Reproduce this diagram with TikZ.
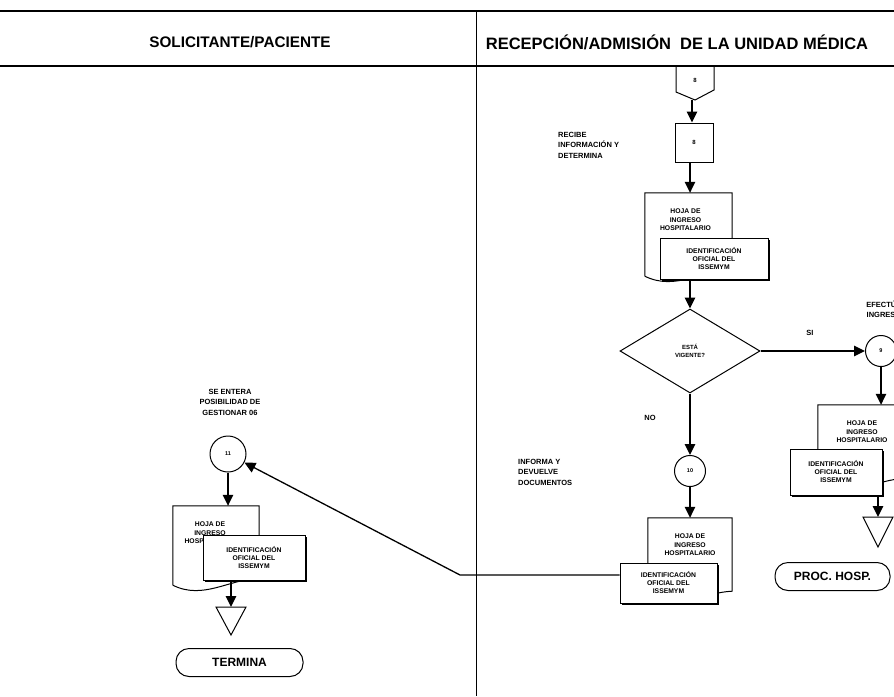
\documentclass[tikz,border=0pt]{standalone}
\usepackage{fontspec}
\setmainfont{Liberation Sans}
\usetikzlibrary{arrows.meta,shapes.geometric,calc,shadows}

\tikzset{
  hdr/.style={font=\bfseries\fontsize{15.3}{17}\selectfont, inner sep=0},
  note/.style={font=\bfseries\fontsize{7.5}{10.5}\selectfont, align=left, inner sep=0},
  lbl/.style={font=\bfseries\fontsize{7.5}{9}\selectfont, inner sep=0},
  shapeline/.style={line width=1pt},
  conn/.style={line width=1.3pt, -{Triangle[length=11pt,width=10.5pt]}},
  stepbox/.style={draw, shapeline, minimum width=38pt, minimum height=39pt,
    inner sep=0, font=\bfseries\fontsize{6}{7}\selectfont},
  numtext/.style={inner sep=0, font=\bfseries\fontsize{6}{7}\selectfont},
  circ/.style={draw, circle, shapeline, minimum size=31pt, inner sep=0,
    font=\bfseries\fontsize{5.5}{6.5}\selectfont},
  decision/.style={draw, diamond, shapeline, minimum width=140pt, minimum height=84pt,
    inner sep=0, align=center, font=\bfseries\fontsize{6}{7.5}\selectfont},
  docback/.style={inner sep=0, draw=none},
  doctext/.style={inner sep=0, align=center, font=\bfseries\fontsize{6.8}{8.5}\selectfont},
  docfront/.style={draw, shapeline, fill=white, inner sep=0, align=center,
    font=\bfseries\fontsize{6.8}{8}\selectfont,
    drop shadow={shadow xshift=2pt, shadow yshift=-2pt, fill=black, opacity=1}},
  term/.style={draw, shapeline, rounded corners=13pt, minimum height=28pt, inner sep=0,
    font=\bfseries\fontsize{12}{14}\selectfont},
}

% outline of a document symbol with a wavy lower edge, fitted to a node
\newcommand{\drawdocument}[1]{%
  \draw[shapeline] (#1.south west) -- (#1.north west) -- (#1.north east)
    -- ([yshift=7pt]#1.south east)
    .. controls ($(#1.south east)!0.35!(#1.south west)+(0pt,6pt)$)
       and ($(#1.south west)!0.35!(#1.south east)+(0pt,-15pt)$) .. (#1.south west);}

\begin{document}
\begin{tikzpicture}[x=1pt,y=-1pt]
\useasboundingbox (0,0) rectangle (894,696);
\clip (0,0) rectangle (894,696);

% lanes
\draw[line width=1.8pt] (0,11) -- (894,11);
\draw[line width=1.2pt] (0,66) -- (894,66);
\draw[line width=1pt] (476,11) -- (476,696);
\node[hdr] (lane1) at (240,42) {SOLICITANTE/PACIENTE};
\node[hdr, font=\bfseries\fontsize{16.5}{18}\selectfont] (lane2) at (677,42) {RECEPCIÓN/ADMISIÓN\ \ DE LA UNIDAD MÉDICA};

\coordinate (col) at (690,0);

% off-page connector 8
\node[numtext] (c8) at (695,80) {8};
\draw[shapeline] (676,66) -- (676,92) -- (695,100) -- (714,90) -- (714,66);
\coordinate (c8tip) at (692,100);

% step 8
\node[stepbox] (b8) at (694,142.5) {8};
\draw[conn] (c8tip) -- (c8tip |- b8.north);
\node[note, anchor=north west] (l8) at (558,132) {RECIBE\\INFORMACIÓN Y\\DETERMINA};

% documents after step 8
\node[docback, minimum width=87pt, minimum height=83pt] (h1) at (688.5,234.5) {};
\drawdocument{h1}
\node[doctext, anchor=north] (h1t) at ([xshift=-3pt,yshift=-16pt]h1.north) {HOJA DE\\INGRESO\\HOSPITALARIO};
\node[docfront, minimum width=108pt, minimum height=41pt] (i1) at (714,258.5) {IDENTIFICACIÓN\\OFICIAL DEL\\ISSEMYM};
\draw[conn] (b8.south -| col) -- (h1.north -| col);

% decision
\node[decision] (dia) at (690,351) {ESTÁ\\VIGENTE?};
\draw[conn] (i1.south -| dia) -- (dia.north);

% yes branch
\node[circ] (c9) at (881,351) {9};
\draw[conn] (dia.east) -- (c9.west);
\node[lbl] (si) at (810,333) {SI};
\node[note, align=center] (l9) at (884,309) {EFECTÚA\\INGRESO};

\node[docback, minimum width=88pt, minimum height=80pt] (h2) at (862,445) {};
\drawdocument{h2}
\node[doctext, anchor=north] (h2t) at ([yshift=-16pt]h2.north) {HOJA DE\\INGRESO\\HOSPITALARIO};
\node[docfront, minimum width=92pt, minimum height=46pt] (i2) at (836,472) {IDENTIFICACIÓN\\OFICIAL DEL\\ISSEMYM};
\draw[conn] (c9.south) -- (c9 |- h2.north);

\coordinate (t2) at (878,517);
\draw[conn] (i2.south -| t2) -- (t2);
\draw[shapeline] ([xshift=-15pt]t2) -- ([xshift=15pt]t2) -- ([yshift=-30pt]t2) -- cycle;
\node[term, minimum width=115pt] (ph) at (832.5,576.5) {PROC. HOSP.};

% no branch
\node[lbl] (no) at (650,418) {NO};
\node[circ] (c10) at (690,471) {10};
\draw[conn] (dia.south) -- (c10.north);
\node[note, anchor=north west] (l10) at (518,459) {INFORMA Y\\DEVUELVE\\DOCUMENTOS};

\node[docback, minimum width=84pt, minimum height=80pt] (h3) at (690,558) {};
\drawdocument{h3}
\node[doctext, anchor=north] (h3t) at ([yshift=-16pt]h3.north) {HOJA DE\\INGRESO\\HOSPITALARIO};
\node[docfront, minimum width=97pt, minimum height=40pt] (i3) at (668.5,583) {IDENTIFICACIÓN\\OFICIAL DEL\\ISSEMYM};
\draw[conn] (c10.south) -- (h3.north);

% return to the applicant
\node[note, align=center] (l11) at (230,402) {SE ENTERA\\POSIBILIDAD DE\\GESTIONAR 06};
\node[circ, minimum size=36pt] (c11) at (228,454) {11};
\coordinate (bend) at (460,575);
\draw[conn] ([yshift=8pt]i3.west) -- (bend) -- (c11);

\node[docback, minimum width=86pt, minimum height=79pt] (h4) at (216,545.5) {};
\drawdocument{h4}
\node[doctext, anchor=north] (h4t) at ([xshift=-6pt,yshift=-16pt]h4.north) {HOJA DE\\INGRESO\\HOSPITALARIO};
\node[docfront, minimum width=102pt, minimum height=45pt] (i4) at (254,557.5) {IDENTIFICACIÓN\\OFICIAL DEL\\ISSEMYM};
\draw[conn] (c11.south) -- (c11.south |- h4.north);

\coordinate (t4) at (231,607);
\draw[conn] (i4.south -| t4) -- (t4);
\draw[shapeline] ([xshift=-15pt]t4) -- ([xshift=15pt]t4) -- ([yshift=-28pt]t4) -- cycle;
\node[term, minimum width=127pt] (fin) at (239.5,662.5) {TERMINA};

\end{tikzpicture}
\end{document}
